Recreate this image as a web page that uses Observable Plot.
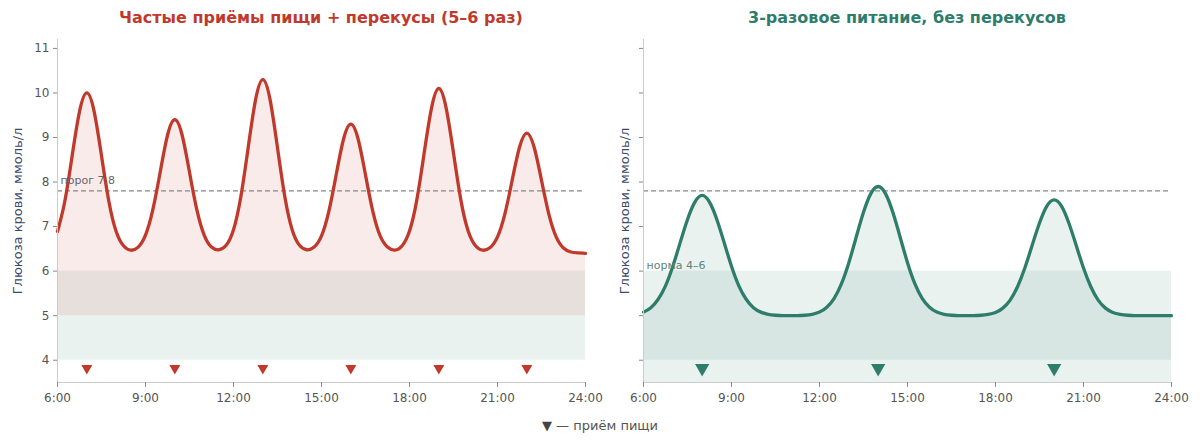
<!DOCTYPE html>
<html><head><meta charset="utf-8">
<script src="https://cdn.jsdelivr.net/npm/d3@7"></script>
<script src="https://cdn.jsdelivr.net/npm/@observablehq/plot@0.6"></script>
<style>
body{margin:0;background:#fff;font-family:"DejaVu Sans",sans-serif;}
#wrap{position:relative;width:1200px;height:446px;overflow:hidden;background:#fff;}
.panel{position:absolute;top:0;}
.panel svg{overflow:visible;}
.title{position:absolute;top:8px;font-weight:bold;font-size:16px;white-space:nowrap;transform:translateX(-50%);}
#cap{position:absolute;top:418px;left:600px;transform:translateX(-50%);font-size:13px;color:#555;white-space:nowrap;}
#cap b{color:#444;font-weight:normal;}
</style></head><body>
<div id="wrap">
  <div id="p1" class="panel" style="left:0"></div>
  <div id="p2" class="panel" style="left:600px"></div>
  <div class="title" id="t1" style="left:321px;color:#c0392b"></div>
  <div class="title" id="t2" style="left:907px;color:#2e7d6b"></div>
  <div id="cap"></div>
</div>
<script>
// ---- data ----
const times = [6,6.25,6.5,6.75,7,7.25,7.5,7.75,8,8.25,8.5,8.75,9,9.25,9.5,9.75,10,10.25,10.5,10.75,11,11.25,11.5,11.75,12,12.25,12.5,12.75,13,13.25,13.5,13.75,14,14.25,14.5,14.75,15,15.25,15.5,15.75,16,16.25,16.5,16.75,17,17.25,17.5,17.75,18,18.25,18.5,18.75,19,19.25,19.5,19.75,20,20.25,20.5,20.75,21,21.25,21.5,21.75,22,22.25,22.5,22.75,23,23.25,23.5,23.75,24];
const glucoseFrequent = [6.89,7.57,8.59,9.58,10.00,9.58,8.59,7.57,6.89,6.57,6.47,6.54,6.81,7.38,8.22,9.05,9.40,9.05,8.22,7.38,6.81,6.54,6.48,6.58,6.93,7.67,8.77,9.84,10.30,9.84,8.77,7.67,6.93,6.58,6.48,6.54,6.79,7.34,8.16,8.96,9.30,8.96,8.16,7.34,6.79,6.54,6.47,6.57,6.90,7.60,8.65,9.66,10.10,9.66,8.65,7.60,6.90,6.57,6.47,6.53,6.77,7.28,8.04,8.78,9.10,8.78,8.04,7.28,6.77,6.52,6.43,6.41,6.40];
const glucoseThree = [5.08,5.18,5.37,5.67,6.11,6.64,7.16,7.55,7.70,7.55,7.16,6.64,6.11,5.67,5.37,5.18,5.08,5.03,5.01,5.00,5.00,5.00,5.01,5.03,5.08,5.19,5.39,5.72,6.19,6.76,7.32,7.74,7.90,7.74,7.32,6.76,6.19,5.72,5.39,5.19,5.08,5.03,5.01,5.00,5.00,5.00,5.01,5.03,5.07,5.17,5.35,5.65,6.07,6.58,7.08,7.46,7.60,7.46,7.08,6.58,6.07,5.65,5.35,5.17,5.07,5.03,5.01,5.00,5.00,5.00,5.00,5.00,5.00];
const mealsFrequent = [7,10,13,16,19,22];
const mealsThree = [8,14,20];
const normBand = [4,6];
const threshold = [7.8];
const fillBase = [5, 3.5];
const xTicks = [6,9,12,15,18,21,24];
const xTickLabels = ["6:00","9:00","12:00","15:00","18:00","21:00","24:00"];
const yTicks = [4,5,6,7,8,9,10,11];
const xDomain = [6,24];
const yDomain = [3.5,11.2];
const markerY = [3.82];
const titles = ["Частые приёмы пищи + перекусы (5–6 раз)","3-разовое питание, без перекусов"];
const yLabel = "Глюкоза крови, ммоль/л";
const thresholdLabel = "порог 7.8";
const normLabel = "норма 4–6";
const caption = "— приём пищи";

const RED = "#c0392b", GREEN = "#2e7d6b";

function panel(opts){
  const data = times.map((t,i)=>({t, g: opts.values[i]}));
  const marks = [
    Plot.rect([normBand], {x1: ()=>xDomain[0], x2: ()=>xDomain[1], y1: d=>d[0], y2: d=>d[1], fill: GREEN, fillOpacity: 0.1}),
    Plot.areaY(data, {x:"t", y1: ()=>opts.base, y2:"g", fill: opts.color, fillOpacity: 0.1, curve:"natural"}),
    Plot.ruleY(threshold, {stroke:"#888", strokeWidth:1.2, strokeDasharray:"5,3"}),
    Plot.lineY(data, {x:"t", y:"g", stroke: opts.color, strokeWidth: 3.3, curve:"natural"}),
    Plot.dot(opts.meals, {x: d=>d, y: ()=>markerY[0], symbol:"triangle", rotate:180, r: opts.r, fill: opts.color, stroke:"none"}),
    Plot.ruleX([xDomain[0]], {stroke:"#ccc", strokeWidth:1}),
    Plot.ruleY([yDomain[0]], {stroke:"#ccc", strokeWidth:1}),
    Plot.axisX({ticks: xTicks, tickFormat: (d)=>xTickLabels[xTicks.indexOf(d)], tickSize:5, tickPadding:6, label:null, stroke:"#888", fill:"#555"}),
    Plot.axisY({ticks: yTicks, tickFormat: opts.showY ? (d)=>String(d) : ()=>"", tickSize:4, tickPadding:4, label:null, stroke:"#888", fill:"#555"}),
    Plot.text([yLabel], {frameAnchor:"left", dx: -opts.labelOffset, rotate:-90, fill:"#3b4a6b", fontSize:13, textAnchor:"middle"})
  ];
  if (opts.note) marks.push(Plot.text([opts.note.text], {x: ()=>xDomain[0], y: ()=>opts.note.y, dx:3, dy: opts.note.dy, textAnchor:"start", fill: opts.note.color, fontSize:11}));
  return Plot.plot({
    width:600, height:446,
    marginLeft: opts.ml, marginRight: opts.mr, marginTop:39, marginBottom:64,
    x:{domain:xDomain}, y:{domain:yDomain},
    style:{fontFamily:"DejaVu Sans, sans-serif", fontSize:"12px", color:"#555", background:"transparent", overflow:"visible"},
    marks
  });
}

document.getElementById("p1").appendChild(panel({values: glucoseFrequent, color: RED, base: fillBase[0], meals: mealsFrequent, r:4.1, ml:57, mr:15, showY:true, labelOffset:40,
  note:{text: thresholdLabel, y: threshold[0], dy:-10, color:"#666"}}));
document.getElementById("p2").appendChild(panel({values: glucoseThree, color: GREEN, base: fillBase[1], meals: mealsThree, r:5.3, ml:43, mr:29, showY:false, labelOffset:19,
  note:{text: normLabel, y: normBand[1], dy:-6, color:"#5f8479"}}));
document.getElementById("t1").textContent = titles[0];
document.getElementById("t2").textContent = titles[1];
document.getElementById("cap").innerHTML = "<b>▼</b> " + caption;
</script>
</body></html>
